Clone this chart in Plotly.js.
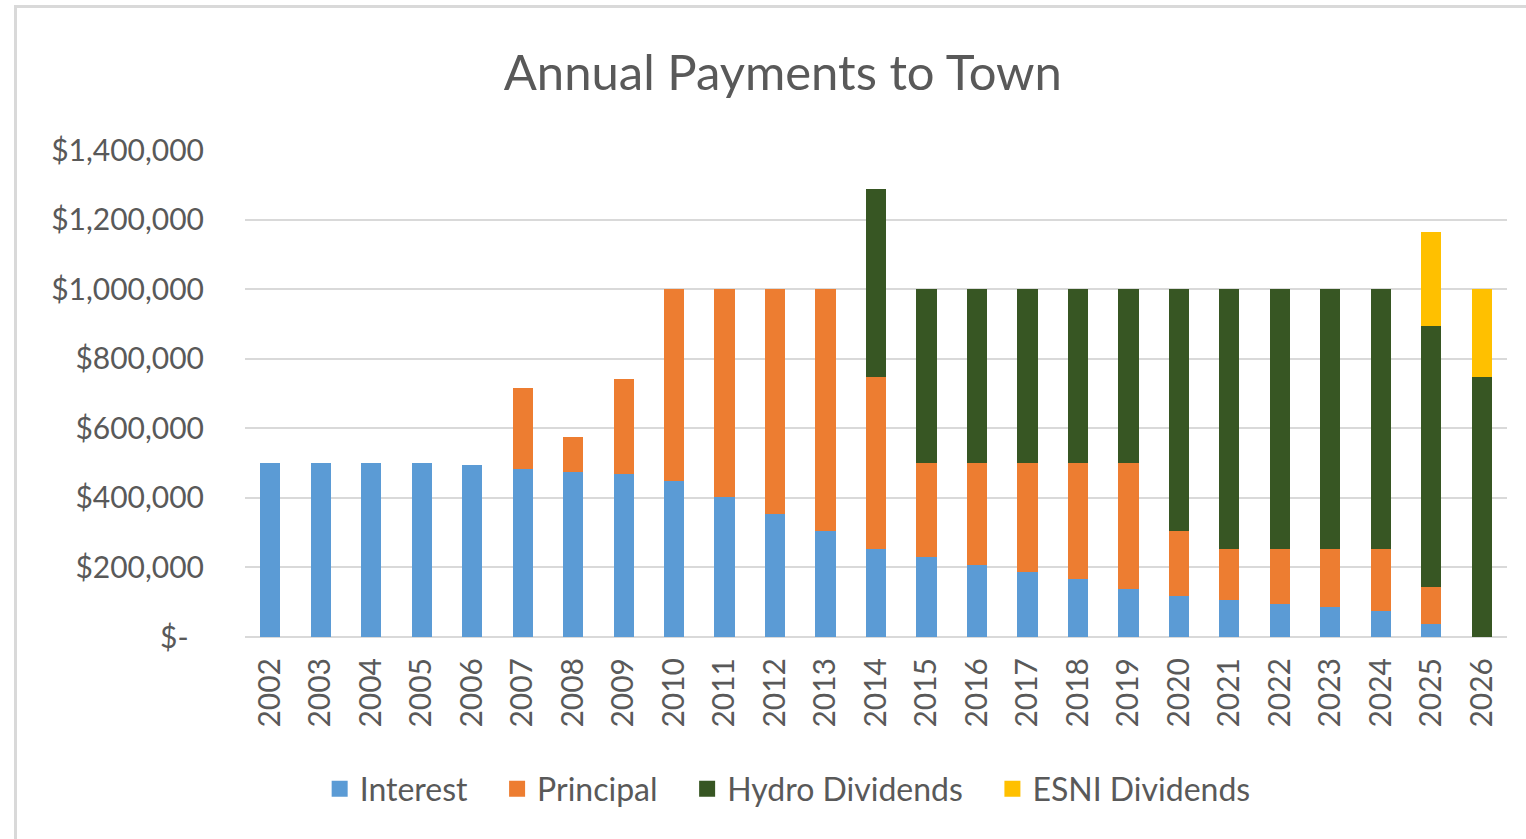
<html><head><meta charset="UTF-8"><title>Annual Payments to Town</title>
<script src="https://cdn.plot.ly/plotly-3.0.1.min.js"></script>
<style>
  body, html { margin: 0; padding: 0; background: #ffffff; overflow: hidden; }
  #frame { position: absolute; left: 14px; top: 5px; width: 1600px; height: 900px; border: 3px solid #d9d9d9; box-sizing: border-box; }
  #chart { position: absolute; left: 0; top: 0; width: 1526px; height: 839px; }
</style></head><body>
<div id="frame"></div>
<div id="chart"></div>
<script>
const years = ['2002','2003','2004','2005','2006','2007','2008','2009','2010','2011','2012','2013','2014',
               '2015','2016','2017','2018','2019','2020','2021','2022','2023','2024','2025','2026'];
const interest = [500000,500000,500000,500000,495000,483000,474000,469000,448000,402000,354000,305000,253000,
                  230000,207000,187000,167000,138000,118000,106000,95000,86000,75000,37000,0];
const principal = [0,0,0,0,0,233000,101000,273000,552000,598000,646000,695000,494000,
                   270000,293000,313000,333000,362000,187000,147000,158000,167000,178000,107000,0];
const hydro = [0,0,0,0,0,0,0,0,0,0,0,0,541000,
               500000,500000,500000,500000,500000,695000,747000,747000,747000,747000,750000,747000];
const esni = [0,0,0,0,0,0,0,0,0,0,0,0,0,
              0,0,0,0,0,0,0,0,0,0,270000,253000];
const yTicks = [0,200000,400000,600000,800000,1000000,1200000,1400000];
const yTickText = ['$-\u00a0\u00a0','$200,000','$400,000','$600,000','$800,000','$1,000,000','$1,200,000','$1,400,000'];

const font = 'Lato, "Open Sans", sans-serif';
const pad = '\u00a0\u00a0\u00a0';   // wider gap between legend entries
const series = [
  { name: 'Interest', y: interest, color: '#5b9bd5' },
  { name: 'Principal', y: principal, color: '#ed7d31' },
  { name: 'Hydro Dividends', y: hydro, color: '#375623' },
  { name: 'ESNI Dividends', y: esni, color: '#ffc000' }
];
const bars = series.map(s => ({
  type: 'bar', x: years, y: s.y, name: s.name, showlegend: false,
  marker: { color: s.color, line: { width: 0 } }
}));
// legend-only entries so the square swatches can be sized like the original
const keys = series.map((s, i) => ({
  type: 'scatter', mode: 'markers', x: [null], y: [null],
  name: i < series.length - 1 ? s.name + pad : s.name,
  marker: { symbol: 'square', size: 19, color: s.color }
}));

const layout = {
  width: 1526, height: 839,
  barmode: 'stack', bargap: 0.6,
  paper_bgcolor: 'rgba(0,0,0,0)', plot_bgcolor: 'rgba(0,0,0,0)',
  margin: { l: 245, r: 19, t: 150, b: 202 },
  font: { family: font, color: '#595959', size: 30 },
  title: { text: 'Annual Payments to Town', x: 0.513, xanchor: 'center', y: 0.913, yanchor: 'middle',
           font: { family: font, size: 49, color: '#595959' } },
  xaxis: { type: 'category', tickangle: -90, showgrid: false, showline: false, zeroline: false,
           ticks: '', ticklabelstandoff: 14, tickfont: { size: 30 } },
  yaxis: { range: [0, 1400000], tickvals: yTicks, ticktext: yTickText, showgrid: true,
           gridcolor: '#d9d9d9', gridwidth: 2, zeroline: true, zerolinecolor: '#d9d9d9', zerolinewidth: 2,
           showline: false, ticks: '', ticklabelstandoff: 40, tickfont: { size: 30 } },
  legend: { orientation: 'h', x: 0.43, xanchor: 'center', y: -0.312, yanchor: 'middle',
            font: { size: 32 }, itemwidth: 30, traceorder: 'normal' },
  showlegend: true
};
Plotly.newPlot('chart', bars.concat(keys), layout, { displayModeBar: false, staticPlot: true });
</script>
</body></html>
